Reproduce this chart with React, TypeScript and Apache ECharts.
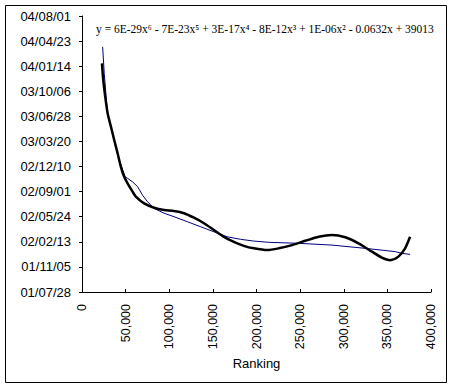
import React, { useEffect, useRef } from "react";
import * as echarts from "echarts";

// Actual data (blue line): ranking vs. date (Excel serial days)
const dataRank = [23657, 25486, 29371, 33143, 38857, 42629, 49486, 52229, 57943, 63657, 69371, 75086, 82629, 94057, 105486, 120800, 136000, 151200, 166514, 181714, 196914, 214057, 248343, 286514, 324571, 358857, 366514, 376000];
const dataDate = [38077, 37971, 37805, 37759, 37679, 37626, 37559, 37553, 37539, 37520, 37486, 37460, 37433, 37414, 37400, 37380, 37360, 37340, 37320, 37310, 37303, 37298, 37294, 37287, 37274, 37261, 37254, 37250];

// 6th-order polynomial trendline (black line)
const trendRank = [22857, 24343, 26629, 29371, 33143, 36914, 40800, 44571, 48343, 52229, 57943, 61714, 71200, 82629, 94057, 105486, 116914, 128343, 139771, 151200, 162629, 174057, 185486, 196914, 212229, 225486, 240800, 256000, 271200, 286514, 301714, 316914, 332229, 343657, 353143, 362629, 370286, 376000];
const trendDate = [38011, 37945, 37878, 37812, 37759, 37706, 37653, 37599, 37559, 37533, 37500, 37480, 37453, 37436, 37427, 37423, 37414, 37396, 37374, 37347, 37320, 37300, 37284, 37274, 37267, 37274, 37287, 37304, 37320, 37327, 37318, 37294, 37261, 37237, 37227, 37241, 37274, 37320];

const xMin = 0;
const xMax = 400000;
const xStep = 50000;
const yMin = 37100; // 01/07/28
const yMax = 38200; // 04/08/01
const yStep = 100;

const equation = "y = 6E-29x\u2076 - 7E-23x\u2075 + 3E-17x\u2074 - 8E-12x\u00B3 + 1E-06x\u00B2 - 0.0632x + 39013";
const xName = "Ranking";

const pad2 = (n: number) => String(n).padStart(2, "0");
const serialToLabel = (v: number) => {
  const d = new Date(Date.UTC(1899, 11, 30) + Math.round(v) * 86400000);
  return `${pad2(d.getUTCFullYear() % 100)}/${pad2(d.getUTCMonth() + 1)}/${pad2(d.getUTCDate())}`;
};
const commaFmt = (v: number) => v.toLocaleString("en-US");

export default function App() {
  const ref = useRef<HTMLDivElement>(null);
  useEffect(() => {
    document.body.style.margin = "0";
    if (!ref.current) return;
    const chart = echarts.init(ref.current, undefined, { renderer: "svg" });
    const sans = "'Liberation Sans', Arial, sans-serif";
    chart.setOption({
      animation: false,
      backgroundColor: "#ffffff",
      grid: { left: 82, right: 24, top: 16, bottom: 96, containLabel: false },
      graphic: [
        {
          type: "rect",
          shape: { x: 5.5, y: 5.5, width: 441, height: 377 },
          style: { fill: "none", stroke: "#000", lineWidth: 1 },
          silent: true,
        },
        {
          type: "text",
          left: 96,
          top: 23,
          style: {
            text: equation,
            font: "11.5px 'Liberation Serif', 'DejaVu Serif', serif",
            fill: "#000",
          },
        },
      ],
      xAxis: {
        type: "value",
        min: xMin,
        max: xMax,
        interval: xStep,
        name: xName,
        nameLocation: "middle",
        nameGap: 64,
        nameTextStyle: { color: "#000", fontSize: 13, fontFamily: sans },
        axisLine: { show: true, lineStyle: { color: "#000", width: 1 } },
        axisTick: { show: true, inside: true, length: 3, lineStyle: { color: "#000" } },
        splitLine: { show: false },
        axisLabel: {
          rotate: 90,
          margin: 12,
          color: "#000",
          fontSize: 12.5,
          fontFamily: sans,
          formatter: (v: number) => commaFmt(v),
        },
      },
      yAxis: {
        type: "value",
        min: yMin,
        max: yMax,
        interval: yStep,
        axisLine: { show: true, lineStyle: { color: "#000", width: 1 } },
        axisTick: { show: true, inside: false, length: 3, lineStyle: { color: "#000" } },
        splitLine: { show: false },
        axisLabel: {
          margin: 11,
          color: "#000",
          fontSize: 13,
          fontFamily: sans,
          formatter: (v: number) => serialToLabel(v),
        },
      },
      series: [
        {
          type: "line",
          name: "data",
          data: dataRank.map((x, i) => [x, dataDate[i]]),
          showSymbol: false,
          symbol: "none",
          lineStyle: { color: "#000080", width: 1 },
          z: 2,
        },
        {
          type: "line",
          name: "trend",
          data: trendRank.map((x, i) => [x, trendDate[i]]),
          showSymbol: false,
          symbol: "none",
          smooth: 0.25,
          lineStyle: { color: "#000000", width: 2.5 },
          z: 3,
        },
      ],
    });
    return () => chart.dispose();
  }, []);
  return <div ref={ref} style={{ width: 455, height: 388 }} />;
}
